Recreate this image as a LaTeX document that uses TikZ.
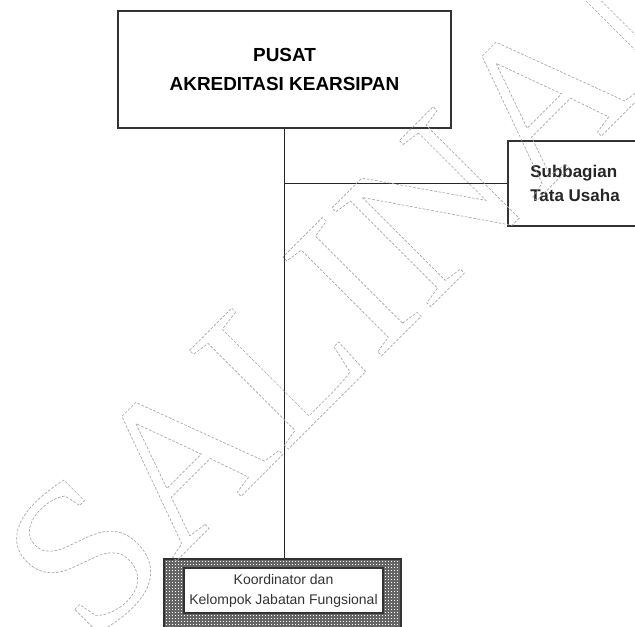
\documentclass[tikz,border=0pt]{standalone}
\usepackage{fontspec}
\setmainfont{Liberation Sans}
\newfontfamily\wmfont{Liberation Serif}
\begin{document}
\begin{tikzpicture}[x=0.75pt,y=-0.75pt,
  box/.style={draw=black!80, line width=1pt, fill=white, inner sep=0pt},
  conn/.style={draw=black!85, line width=1pt},
  gridline/.style={draw=black!60, line width=0.8pt}]
\useasboundingbox (0,0) rectangle (635,627);
\clip (0,0) rectangle (635,627);
% top box
\node[box, minimum width=249.75pt, minimum height=87.75pt,
      font=\bfseries\fontsize{14.2}{21.75}\selectfont, align=center] (pusat) at (284.5,69.5)
      {PUSAT\\AKREDITASI KEARSIPAN};
% right box
\node[box, minimum width=100.5pt, minimum height=63.75pt,
      font=\bfseries\fontsize{12.75}{18}\selectfont, align=left, text=black!85] (tu) at (575,183.5)
      {Subbagian\\Tata Usaha};
% hatched outer box
\begin{scope}
  \clip (164,559) rectangle (401,641);
  \fill[white] (164,559) rectangle (401,641);
  \foreach \x in {165,168,...,401} \draw[gridline] (\x,559) -- (\x,641);
  \foreach \y in {560,563,...,641} \draw[gridline] (164,\y) -- (401,\y);
\end{scope}
\node[draw=black!80, line width=1pt, inner sep=0pt, minimum width=177.75pt, minimum height=61.5pt] (jf) at (282.5,600) {};
\node[box, minimum width=149.25pt, minimum height=33.75pt,
      font=\fontsize{10.5}{15}\selectfont, align=center, text=black!80] (kf) at (283.5,590.5)
      {Koordinator dan\\Kelompok Jabatan Fungsional};
% connectors
\draw[conn] (pusat.south) -- (pusat.south |- jf.north);
\coordinate (j) at (pusat.south |- tu.west);
\draw[conn] (j) -- (tu.west);
% watermark
\node[rotate=45, text=black!35, font=\wmfont\fontsize{160}{160}\selectfont, inner sep=0pt] (wm) at (373,266)
  {\special{pdf:code 1 Tr 0.5 w [2 1.2] 0 d}SALINAN};
\end{tikzpicture}
\end{document}
